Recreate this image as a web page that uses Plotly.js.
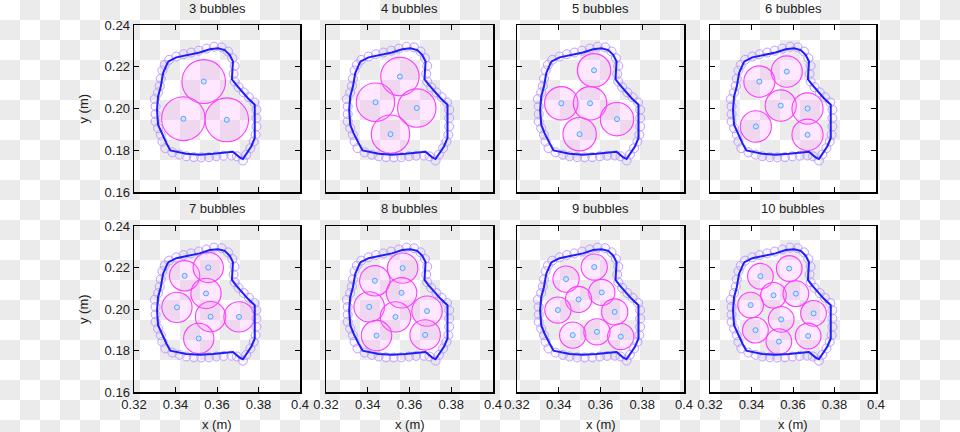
<!DOCTYPE html>
<html>
<head>
<meta charset="utf-8">
<script src="https://cdn.plot.ly/plotly-3.0.1.min.js"></script>
<style>
html,body{margin:0;padding:0;}
body{width:960px;height:432px;background:repeating-conic-gradient(#ebebeb 0 25%, #ffffff 0 50%) 0 0 / 40px 40px;}
#chart{width:960px;height:432px;}
</style>
</head>
<body>
<div id="chart"></div>
<script>
// ---- data ----
const panelTitles = ['3 bubbles','4 bubbles','5 bubbles','6 bubbles','7 bubbles','8 bubbles','9 bubbles','10 bubbles'];
const xTickVals = [0.32, 0.34, 0.36, 0.38, 0.4];
const yTickVals = [0.16, 0.18, 0.20, 0.22, 0.24];

// blue contour of the region (same in every panel)
const boundaryX = [0.3364,0.3404,0.3516,0.3565,0.3605,0.3637,0.3661,0.3677,0.3674,0.3672,0.3693,0.3725,0.3749,0.3782,0.3783,0.3782,0.3765,0.3741,0.3725,0.3709,0.3677,0.3581,0.3516,0.3452,0.3375,0.3356,0.3332,0.3316,0.3311,0.3316,0.3329,0.3340,0.3364];
const boundaryY = [0.2225,0.2245,0.2268,0.2284,0.2288,0.2280,0.2257,0.2225,0.2177,0.2140,0.2113,0.2077,0.2049,0.2018,0.1946,0.1858,0.1818,0.1778,0.1758,0.1766,0.1793,0.1783,0.1779,0.1783,0.1799,0.1834,0.1882,0.1922,0.1994,0.2057,0.2105,0.2169,0.2225];

// small purple circles around the contour
const ringX = [0.3369,0.3404,0.3439,0.3475,0.3512,0.3549,0.3586,0.3622,0.3653,0.3674,0.3685,0.3680,0.3685,0.3704,0.3729,0.3754,0.3780,0.3790,0.3790,0.3790,0.3786,0.3777,0.3761,0.3741,0.3725,0.3696,0.3669,0.3632,0.3597,0.3561,0.3524,0.3488,0.3452,0.3420,0.3385,0.3351,0.3337,0.3329,0.3316,0.3304,0.3304,0.3304,0.3300,0.3316,0.3324,0.3329,0.3337,0.3348];
const ringY = [0.2233,0.2249,0.2260,0.2268,0.2277,0.2287,0.2296,0.2293,0.2273,0.2241,0.2204,0.2166,0.2129,0.2102,0.2077,0.2054,0.2029,0.1994,0.1954,0.1914,0.1874,0.1842,0.1810,0.1779,0.1751,0.1771,0.1775,0.1774,0.1771,0.1767,0.1766,0.1767,0.1771,0.1779,0.1790,0.1810,0.1842,0.1874,0.1906,0.1938,0.1973,0.2010,0.2045,0.2077,0.2108,0.2143,0.2182,0.2209];

// bubble centres for each panel
const b3x = [0.3536,0.3438,0.3647];
const b3y = [0.2129,0.1951,0.1946];
const b4x = [0.3554,0.3437,0.3635,0.3509];
const b4y = [0.2153,0.2030,0.2002,0.1877];
const b5x = [0.3569,0.3412,0.3550,0.3679,0.3500];
const b5y = [0.2183,0.2025,0.2025,0.1949,0.1877];
const b6x = [0.3570,0.3438,0.3541,0.3670,0.3421,0.3670];
const b6y = [0.2177,0.2129,0.2014,0.2000,0.1914,0.1874];
const b7x = [0.3444,0.3558,0.3547,0.3407,0.3569,0.3706,0.3512];
const b7y = [0.2160,0.2200,0.2075,0.2008,0.1963,0.1962,0.1858];
const b8x = [0.3567,0.3434,0.3562,0.3407,0.3533,0.3684,0.3442,0.3675];
const b8y = [0.2197,0.2136,0.2078,0.2010,0.1962,0.1990,0.1872,0.1875];
const b9x = [0.3570,0.3435,0.3606,0.3495,0.3396,0.3668,0.3467,0.3583,0.3697];
const b9y = [0.2202,0.2144,0.2080,0.2046,0.1995,0.1986,0.1874,0.1890,0.1867];
const b10x = [0.3582,0.3443,0.3506,0.3614,0.3396,0.3699,0.3543,0.3419,0.3532,0.3673];
const b10y = [0.2195,0.2158,0.2066,0.2074,0.2019,0.1979,0.1950,0.1898,0.1843,0.1870];
// bubble radius per panel (m)
const bubbleR = [0.0105,0.0092,0.0080,0.0075,0.0073,0.0073,0.0063,0.0062];

const bubbleX = [b3x,b4x,b5x,b6x,b7x,b8x,b9x,b10x];
const bubbleY = [b3y,b4y,b5y,b6y,b7y,b8y,b9y,b10y];

// ---- layout geometry ----
const W = 960, H = 432;
const colPx = [[134,300],[326,493],[517,684],[710,876]];
const rowPx = [[25,192],[226,392]];
const FONT = 'Liberation Sans, Arial, Helvetica, sans-serif';

const traces = [];
const shapes = [];
const annotations = [];
const layout = {
  width: W, height: H,
  margin: {l:0, r:0, t:0, b:0},
  paper_bgcolor: 'rgba(0,0,0,0)',
  plot_bgcolor: 'rgba(0,0,0,0)',
  showlegend: false,
  font: {family: FONT, size: 13, color: '#222'}
};

for (let i = 0; i < 8; i++) {
  const row = Math.floor(i / 4), col = i % 4;
  const n = i === 0 ? '' : String(i + 1);
  const xa = 'x' + n, ya = 'y' + n;
  const xd = [colPx[col][0] / W, colPx[col][1] / W];
  const yd = [1 - rowPx[row][1] / H, 1 - rowPx[row][0] / H];
  layout['xaxis' + n] = {
    domain: xd, anchor: ya, range: [0.32, 0.4],
    tickvals: xTickVals, ticks: 'inside', ticklen: 5, tickwidth: 1, tickcolor: '#000',
    showline: true, linecolor: '#000', linewidth: 1.5, mirror: 'ticks',
    showgrid: false, zeroline: false, showticklabels: row === 1,
    tickfont: {family: FONT, size: 13, color: '#222'}
  };
  layout['yaxis' + n] = {
    domain: yd, anchor: xa, range: [0.16, 0.24],
    tickvals: yTickVals, tickformat: '.2f', ticks: 'inside', ticklen: 5, tickwidth: 1, tickcolor: '#000',
    showline: true, linecolor: '#000', linewidth: 1.5, mirror: 'ticks',
    showgrid: false, zeroline: false, showticklabels: col === 0,
    tickfont: {family: FONT, size: 13, color: '#222'}
  };

  // purple ring circles
  traces.push({
    type: 'scatter', mode: 'markers', x: ringX, y: ringY, xaxis: xa, yaxis: ya,
    marker: {symbol: 'circle', size: 9, color: 'rgba(210,190,255,0.12)', line: {color: 'rgb(192,160,255)', width: 1}},
    hoverinfo: 'skip'
  });
  // blue contour
  traces.push({
    type: 'scatter', mode: 'lines', x: boundaryX, y: boundaryY, xaxis: xa, yaxis: ya,
    line: {color: 'rgb(30,30,250)', width: 2}, hoverinfo: 'skip'
  });
  // bubbles
  const r = bubbleR[i];
  bubbleX[i].forEach((cx, k) => {
    const cy = bubbleY[i][k];
    shapes.push({
      type: 'circle', xref: xa, yref: ya, layer: 'below',
      x0: cx - r, x1: cx + r, y0: cy - r, y1: cy + r,
      fillcolor: 'rgba(255,140,255,0.2)', line: {color: 'rgb(255,60,255)', width: 1.1}
    });
  });
  // bubble centres
  traces.push({
    type: 'scatter', mode: 'markers', x: bubbleX[i], y: bubbleY[i], xaxis: xa, yaxis: ya,
    marker: {symbol: 'circle', size: 5, color: '#cfe4ff', line: {color: '#5aa0ff', width: 1}},
    hoverinfo: 'skip'
  });

  // panel title
  annotations.push({
    text: panelTitles[i], xref: 'paper', yref: 'paper',
    x: (xd[0] + xd[1]) / 2, y: 1 - (row === 0 ? 0 : 200) / H,
    xanchor: 'center', yanchor: 'top', showarrow: false, borderpad: 0,
    font: {family: FONT, size: 13, color: '#222'}
  });
  if (row === 1) {
    annotations.push({
      text: 'x (m)', xref: 'paper', yref: 'paper',
      x: (xd[0] + xd[1]) / 2, y: 1 - 424 / H,
      xanchor: 'center', yanchor: 'middle', showarrow: false,
      font: {family: FONT, size: 13, color: '#222'}
    });
  }
  if (col === 0) {
    annotations.push({
      text: 'y (m)', xref: 'paper', yref: 'paper', textangle: -90,
      x: 83 / W, y: (yd[0] + yd[1]) / 2,
      xanchor: 'center', yanchor: 'middle', showarrow: false,
      font: {family: FONT, size: 13, color: '#222'}
    });
  }
}
layout.shapes = shapes;
layout.annotations = annotations;

Plotly.newPlot('chart', traces, layout, {displayModeBar: false, staticPlot: true});
</script>
</body>
</html>
